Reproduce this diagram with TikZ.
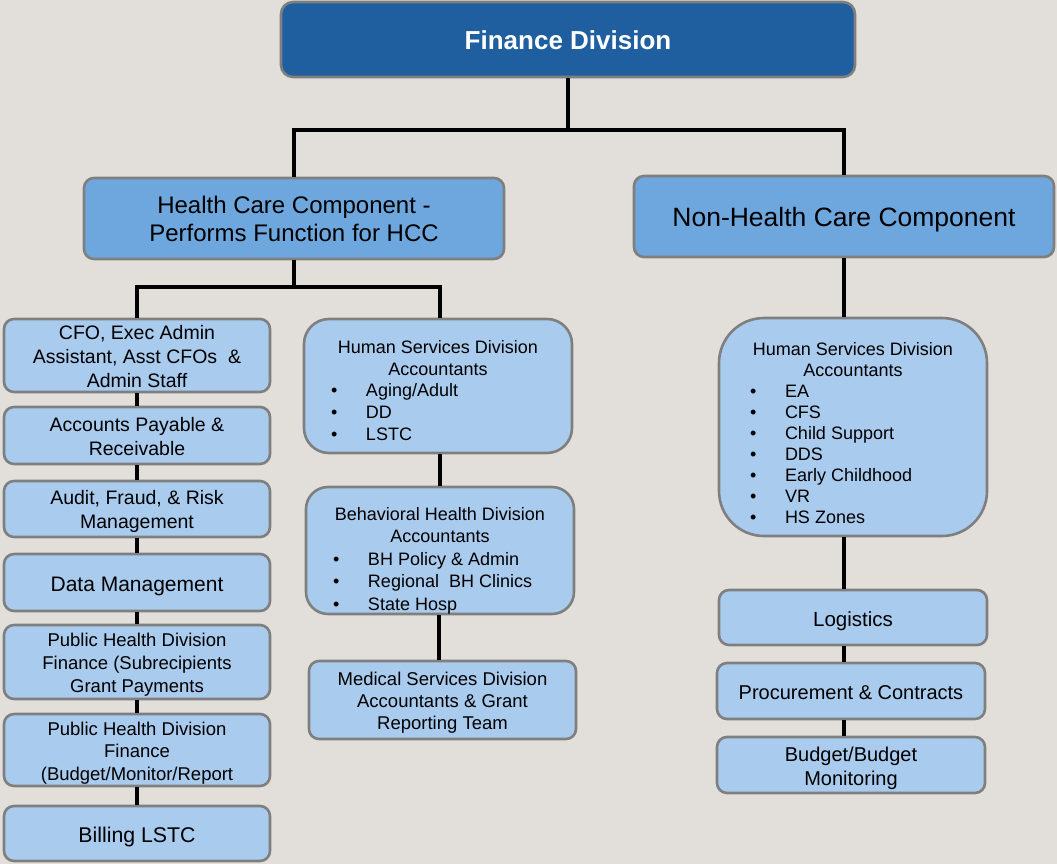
\documentclass[tikz,border=0pt]{standalone}
\usepackage{fontspec}
\setmainfont{Liberation Sans}
\definecolor{bgc}{HTML}{E2DFDA}
\definecolor{darkb}{HTML}{1F5F9F}
\definecolor{midb}{HTML}{6EA7DE}
\definecolor{lightb}{HTML}{A9CBEE}
\definecolor{bord}{HTML}{7F7F7F}
\newcommand\fsz[2]{\fontsize{#1}{#2}\selectfont}
\newcommand\bl[3]{\makebox[#1][l]{\makebox[#2][l]{•}#3}}
\begin{document}
\begin{tikzpicture}[x=1pt,y=-1pt,
  box/.style={draw=bord, line width=2.6pt, fill=lightb, rounded corners=10pt, inner sep=0pt, minimum width=266pt},
  topbox/.style={box, fill=darkb, rounded corners=12pt},
  midbox/.style={box, fill=midb},
  conn/.style={line width=3.2pt, black},
  txt/.style={inner sep=0pt, align=center, text=black}]
\fill[bgc] (0,0) rectangle (1057,864);
\useasboundingbox (0,0) rectangle (1057,864);

% top
\node[topbox, minimum width=574pt, minimum height=75pt] (fin) at (568,39.5) {};
\node[txt, text=white, font=\bfseries\fsz{26}{30}] (fint) at (568,40.5) {Finance Division};
\node[midbox, minimum width=420pt, minimum height=81pt] (hcc) at (294,218.5) {};
\node[txt, font=\fsz{24}{28}] (hcct) at (294,218.5) {Health Care Component -\\Performs Function for HCC};
\node[midbox, minimum width=420pt, minimum height=81pt] (nhc) at (844,216.5) {};
\node[txt, font=\fsz{26.5}{30}] (nhct) at (844,219.5) {Non-Health Care Component};

% left column
\node[box, minimum height=73pt] (cfo) at (137,355.5) {};
\node[txt, font=\fsz{19.5}{24}] (cfot) at (137,356.5) {CFO, Exec Admin\\Assistant, Asst CFOs~~\&\\Admin Staff};
\node[box, minimum height=57pt] (ap) at (137,435.5) {};
\node[txt, font=\fsz{19.5}{24}] (apt) at (137,436.5) {Accounts Payable \&\\Receivable};
\node[box, minimum height=56pt] (aud) at (137,509) {};
\node[txt, font=\fsz{19.5}{24}] (audt) at (137,511) {Audit, Fraud, \& Risk\\Management};
\node[box, minimum height=57pt] (dm) at (137,582.5) {};
\node[txt, font=\fsz{21}{24}] (dmt) at (137,586) {Data Management};
\node[box, minimum height=74pt] (ph1) at (137,662) {};
\node[txt, font=\fsz{18.5}{23}] (ph1t) at (137,665) {Public Health Division\\Finance (Subrecipients\\Grant Payments};
\node[box, minimum height=72pt] (ph2) at (137,750) {};
\node[txt, font=\fsz{18.5}{22.5}] (ph2t) at (137,753) {Public Health Division\\Finance\\(Budget/Monitor/Report};
\node[box, minimum height=55pt] (bill) at (137,833.5) {};
\node[txt, font=\fsz{21.3}{24}] (billt) at (137,836.5) {Billing LSTC};

% middle column
\node[box, minimum width=268pt, minimum height=134pt, rounded corners=25pt] (hs) at (438,386) {};
\node[txt, font=\fsz{18}{21.6}] (hst) at (438,390.5) {Human Services Division\\Accountants\\
  \bl{214pt}{35pt}{Aging/Adult}\\\bl{214pt}{35pt}{DD}\\\bl{214pt}{35pt}{LSTC}};
\node[box, minimum width=268pt, minimum height=127pt, rounded corners=22pt] (bh) at (440,550.5) {};
\node[txt, font=\fsz{18}{22.5}] (bht) at (440,560.5) {Behavioral Health Division\\Accountants\\
  \bl{214pt}{35pt}{BH Policy \& Admin}\\\bl{214pt}{35pt}{Regional~~BH Clinics}\\\bl{214pt}{35pt}{State Hosp}};
\node[box, minimum width=267pt, minimum height=78pt] (med) at (442.5,700) {};
\node[txt, font=\fsz{18.5}{22}] (medt) at (442.5,703) {Medical Services Division\\Accountants \& Grant\\Reporting Team};

% right column
\node[box, minimum width=268pt, minimum height=218pt, rounded corners=45pt] (hsr) at (853,427) {};
\node[txt, font=\fsz{18}{21}] (hsrt) at (853,433.5) {Human Services Division\\Accountants\\
  \bl{206pt}{35pt}{EA}\\\bl{206pt}{35pt}{CFS}\\\bl{206pt}{35pt}{Child Support}\\\bl{206pt}{35pt}{DDS}\\
  \bl{206pt}{35pt}{Early Childhood}\\\bl{206pt}{35pt}{VR}\\\bl{206pt}{35pt}{HS Zones}};
\node[box, minimum width=268pt, minimum height=55pt] (log) at (853,617.5) {};
\node[txt, font=\fsz{20.5}{24}] (logt) at (853,621.5) {Logistics};
\node[box, minimum width=268pt, minimum height=56pt] (proc) at (851,691) {};
\node[txt, font=\fsz{20}{24}] (proct) at (851,693) {Procurement \& Contracts};
\node[box, minimum width=268pt, minimum height=56pt] (bud) at (851,765) {};
\node[txt, font=\fsz{20}{24}] (budt) at (851,768) {Budget/Budget\\Monitoring};

% connectors
\coordinate (j1) at (568,130);
\coordinate (j2) at (294,287);
\coordinate (mc) at (440,0);
\coordinate (mc2) at (439,0);
\coordinate (rc) at (844,0);
\draw[conn] (fin.south) -- (fin.south |- j1);
\draw[conn] (hcc.north) -- (hcc.north |- j1) -- (nhc.north |- j1) -- (nhc.north);
\draw[conn] (hcc.south) -- (hcc.south |- j2);
\draw[conn] (cfo.north) -- (cfo.north |- j2) -- (j2 -| mc) -- (hs.north -| mc);
\draw[conn] (cfo.south) -- (ap.north);
\draw[conn] (ap.south) -- (aud.north);
\draw[conn] (aud.south) -- (dm.north);
\draw[conn] (dm.south) -- (ph1.north);
\draw[conn] (ph1.south) -- (ph2.north);
\draw[conn] (ph2.south) -- (bill.north);
\draw[conn] (hs.south -| mc) -- (bh.north -| mc);
\draw[conn] (bh.south -| mc2) -- (med.north -| mc2);
\draw[conn] (nhc.south -| rc) -- (hsr.north -| rc);
\draw[conn] (hsr.south -| rc) -- (log.north -| rc);
\draw[conn] (log.south -| rc) -- (proc.north -| rc);
\draw[conn] (proc.south -| rc) -- (bud.north -| rc);
\end{tikzpicture}
\end{document}
